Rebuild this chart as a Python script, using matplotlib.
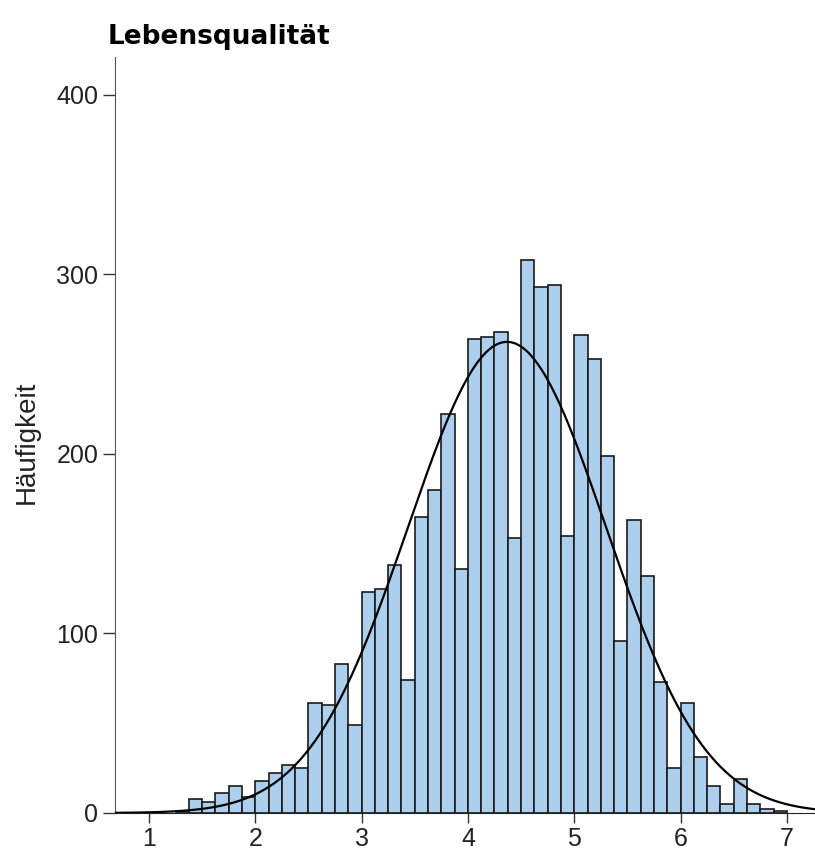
import numpy as np
import matplotlib
matplotlib.use("Agg")
import matplotlib.pyplot as plt

# Histogram of "Lebensqualität" (bin width 0.125)
bin_width = 0.125
bin_left = [1.250, 1.375, 1.500, 1.625, 1.750, 1.875, 2.000, 2.125, 2.250, 2.375,
            2.500, 2.625, 2.750, 2.875, 3.000, 3.125, 3.250, 3.375, 3.500, 3.625,
            3.750, 3.875, 4.000, 4.125, 4.250, 4.375, 4.500, 4.625, 4.750, 4.875,
            5.000, 5.125, 5.250, 5.375, 5.500, 5.625, 5.750, 5.875, 6.000, 6.125,
            6.250, 6.375, 6.500, 6.625, 6.750, 6.875]
counts = [1, 8, 6, 11, 15, 9, 18, 22, 27, 25,
          61, 60, 83, 49, 123, 125, 138, 74, 165, 180,
          222, 136, 264, 265, 268, 153, 308, 293, 294, 154,
          266, 253, 199, 96, 163, 132, 73, 25, 61, 31,
          15, 5, 19, 5, 2, 1]
x_ticks = [1, 2, 3, 4, 5, 6, 7]
y_ticks = [0, 100, 200, 300, 400]
title = "Lebensqualität"
ylabel = "Häufigkeit"

left = np.array(bin_left)
cnt = np.array(counts, dtype=float)
mids = left + bin_width / 2
N = cnt.sum()
mean = (mids * cnt).sum() / N
sd = np.sqrt(((mids - mean) ** 2 * cnt).sum() / (N - 1))

fig = plt.figure(figsize=(8.15, 8.61), dpi=100)
ax = fig.add_axes([115 / 815, 48 / 861, 700 / 815, 756 / 861])

ax.bar(left, cnt, width=bin_width, align="edge", color="#accfee",
       edgecolor="#1a1a1a", linewidth=1.2, zorder=2)

xs = np.linspace(0.68, 7.3, 600)
ys = N * bin_width / (sd * np.sqrt(2 * np.pi)) * np.exp(-0.5 * ((xs - mean) / sd) ** 2)
ax.plot(xs, ys, color="black", linewidth=1.6, zorder=3)

ax.set_xlim(0.68, 7.265)
ax.set_ylim(0, 421)
ax.set_xticks(x_ticks)
ax.set_yticks(y_ticks)

tick_font = ["Liberation Sans", "DejaVu Sans"]
for lab in ax.get_xticklabels() + ax.get_yticklabels():
    lab.set_family(tick_font)
    lab.set_fontsize(18)
    lab.set_color("#222222")
ax.tick_params(axis="x", direction="out", length=7, width=1.0, color="#333333", pad=3)
ax.tick_params(axis="y", direction="out", length=9, width=1.0, color="#333333", pad=3)

for s in ["top", "right"]:
    ax.spines[s].set_visible(False)
ax.spines["left"].set_color("#555555")
ax.spines["bottom"].set_color("#222222")

ax.set_ylabel(ylabel, family=tick_font, fontsize=20, color="#222222", labelpad=9)
ax.yaxis.set_label_coords(-0.108, 0.49)
fig.text(108 / 815, 1 - 44 / 861, title, family=["DejaVu Sans"], fontweight="bold",
         fontsize=19, color="black", ha="left", va="baseline")

fig.savefig("out.png", dpi=100)
